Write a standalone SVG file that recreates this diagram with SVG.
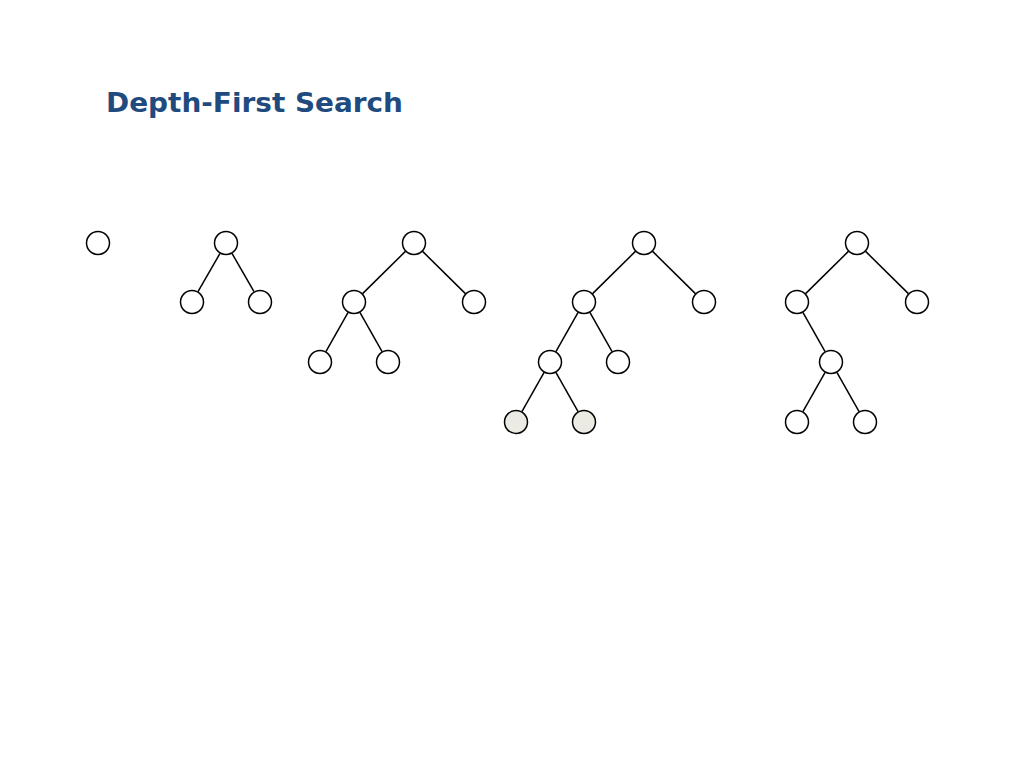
<svg xmlns="http://www.w3.org/2000/svg" width="1024" height="768" viewBox="0 0 1024 768">
<style>
.n{fill:#fff;stroke:#000;stroke-width:1.5}
.v{fill:#ebebe4;stroke:#000;stroke-width:1.5}
.e line{stroke:#000;stroke-width:1.5}
.t{font-family:"DejaVu Sans",Verdana,sans-serif;font-weight:bold;font-size:26.5px;fill:#1f4b7e}
</style>
<rect width="1024" height="768" fill="#fff"/>
<text class="t" x="106" y="112" textLength="297" lengthAdjust="spacingAndGlyphs">Depth-First Search</text>
<g id="connectors" class="e">
<line x1="220" y1="253.4" x2="198" y2="291.6"/>
<line x1="232" y1="253.4" x2="254" y2="291.6"/>
<line x1="405.4" y1="251.4" x2="362.6" y2="293.6"/>
<line x1="422.6" y1="251.4" x2="465.4" y2="293.6"/>
<line x1="348.1" y1="312.4" x2="325.9" y2="351.6"/>
<line x1="359.9" y1="312.4" x2="382.1" y2="351.6"/>
<line x1="635.4" y1="251.4" x2="592.6" y2="293.6"/>
<line x1="652.6" y1="251.4" x2="695.4" y2="293.6"/>
<line x1="578.1" y1="312.4" x2="555.9" y2="351.6"/>
<line x1="589.9" y1="312.4" x2="612.1" y2="351.6"/>
<line x1="544.1" y1="372.4" x2="521.9" y2="411.6"/>
<line x1="555.9" y1="372.4" x2="578.1" y2="411.6"/>
<line x1="848.4" y1="251.4" x2="805.6" y2="293.6"/>
<line x1="865.6" y1="251.4" x2="908.4" y2="293.6"/>
<line x1="802.9" y1="312.4" x2="825.1" y2="351.6"/>
<line x1="825.1" y1="372.4" x2="802.9" y2="411.6"/>
<line x1="836.9" y1="372.4" x2="859.1" y2="411.6"/>
</g>
<g id="t1n1"><circle class="n" cx="98" cy="243" r="11.5"/></g>
<g id="t2n1"><circle class="n" cx="226" cy="243" r="11.5"/></g>
<g id="t2n2"><circle class="n" cx="192" cy="302" r="11.5"/></g>
<g id="t2n3"><circle class="n" cx="260" cy="302" r="11.5"/></g>
<g id="t3n1"><circle class="n" cx="414" cy="243" r="11.5"/></g>
<g id="t3n2"><circle class="n" cx="354" cy="302" r="11.5"/></g>
<g id="t3n3"><circle class="n" cx="474" cy="302" r="11.5"/></g>
<g id="t3n4"><circle class="n" cx="320" cy="362" r="11.5"/></g>
<g id="t3n5"><circle class="n" cx="388" cy="362" r="11.5"/></g>
<g id="t4n1"><circle class="n" cx="644" cy="243" r="11.5"/></g>
<g id="t4n2"><circle class="n" cx="584" cy="302" r="11.5"/></g>
<g id="t4n3"><circle class="n" cx="704" cy="302" r="11.5"/></g>
<g id="t4n4"><circle class="n" cx="550" cy="362" r="11.5"/></g>
<g id="t4n5"><circle class="n" cx="618" cy="362" r="11.5"/></g>
<g id="t4n6"><circle class="v" cx="516" cy="422" r="11.5"/></g>
<g id="t4n7"><circle class="v" cx="584" cy="422" r="11.5"/></g>
<g id="t5n1"><circle class="n" cx="857" cy="243" r="11.5"/></g>
<g id="t5n2"><circle class="n" cx="797" cy="302" r="11.5"/></g>
<g id="t5n3"><circle class="n" cx="917" cy="302" r="11.5"/></g>
<g id="t5n4"><circle class="n" cx="831" cy="362" r="11.5"/></g>
<g id="t5n5"><circle class="n" cx="797" cy="422" r="11.5"/></g>
<g id="t5n6"><circle class="n" cx="865" cy="422" r="11.5"/></g>
</svg>
